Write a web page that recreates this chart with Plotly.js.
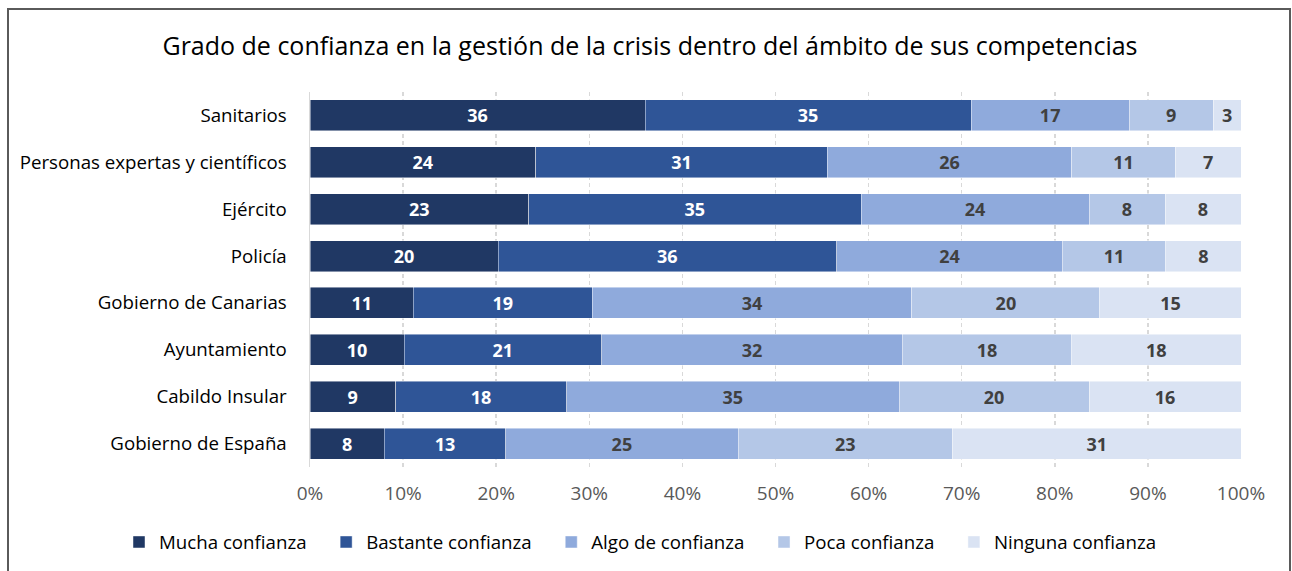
<!DOCTYPE html>
<html>
<head>
<meta charset="utf-8">
<script src="https://cdn.plot.ly/plotly-3.0.1.min.js"></script>
<style>
  html, body { margin: 0; padding: 0; background: #fff; overflow: hidden; }
  #wrap { position: relative; width: 1292px; height: 571px; }
  #chart { position: absolute; left: 0; top: 0; width: 1292px; height: 571px; }
  #frame { position: absolute; left: 7px; top: 8px; width: 1280px; height: 600px;
           border: 2px solid #5a5a5a; pointer-events: none; }
</style>
</head>
<body>
<div id="wrap">
  <div id="chart"></div>
  <div id="frame"></div>
</div>
<script>
const categories = ["Sanitarios", "Personas expertas y científicos", "Ejército", "Policía",
  "Gobierno de Canarias", "Ayuntamiento", "Cabildo Insular", "Gobierno de España"];
const seriesNames = ["Mucha confianza", "Bastante confianza", "Algo de confianza", "Poca confianza", "Ninguna confianza"];
const mucha    = [36, 24, 23, 20, 11, 10, 9, 8];
const bastante = [35, 31, 35, 36, 19, 21, 18, 13];
const algo     = [17, 26, 24, 24, 34, 32, 35, 25];
const poca     = [9, 11, 8, 11, 20, 18, 20, 23];
const ninguna  = [3, 7, 8, 8, 15, 18, 16, 31];
const xTickVals = [0, 10, 20, 30, 40, 50, 60, 70, 80, 90, 100];

const seriesValues = [mucha, bastante, algo, poca, ninguna];
const colors = ["#203864", "#2f5597", "#8faadc", "#b4c7e7", "#dae3f3"];
const textColors = ["#ffffff", "#ffffff", "#404040", "#404040", "#404040"];
const FONT = "'Open Sans', sans-serif";
const PAD = "\u00a0\u00a0\u00a0";

const traces = seriesValues.map((vals, i) => ({
  type: "bar",
  orientation: "h",
  name: seriesNames[i] + (i < seriesValues.length - 1 ? PAD : ""),
  y: categories,
  x: vals,
  text: vals.map(String),
  texttemplate: "%{text}",
  textposition: "inside",
  insidetextanchor: "middle",
  constraintext: "none",
  textfont: { family: FONT, size: 18, color: textColors[i], weight: "bold" },
  marker: { color: colors[i], line: { color: "rgba(255,255,255,0.6)", width: 0.75 } },
  hoverinfo: "skip"
}));

const PLOT_TOP = 91.5, PLOT_BOTTOM = 467.5, PLOT_LEFT = 310, PLOT_RIGHT = 1241;

const layout = {
  width: 1292,
  height: 571,
  barmode: "stack",
  barnorm: "percent",
  bargap: 0.34,
  paper_bgcolor: "#ffffff",
  plot_bgcolor: "#ffffff",
  margin: { l: PLOT_LEFT, r: 1292 - PLOT_RIGHT, t: PLOT_TOP, b: 571 - PLOT_BOTTOM, autoexpand: false },
  font: { family: FONT, color: "#000000" },
  title: {
    text: "Grado de confianza en la gestión de la crisis dentro del ámbito de sus competencias",
    font: { family: FONT, size: 25, color: "#000000" },
    x: 650 / 1292, xanchor: "center", xref: "container",
    y: 1 - 46 / 571, yanchor: "middle", yref: "container"
  },
  xaxis: {
    range: [0, 100],
    tickvals: xTickVals,
    ticktext: xTickVals.map(v => v + "%"),
    showgrid: true,
    gridcolor: "#d9d9d9",
    gridwidth: 1.5,
    griddash: "4px,3px",
    zeroline: false,
    showline: false,
    ticks: "",
    ticklabelstandoff: 13,
    tickfont: { family: FONT, size: 19, color: "#595959" },
    fixedrange: true
  },
  yaxis: {
    autorange: "reversed",
    showgrid: false,
    zeroline: false,
    showline: true,
    linecolor: "#d9d9d9",
    linewidth: 1.5,
    ticks: "",
    ticklabelstandoff: 18,
    tickfont: { family: FONT, size: 18.7, color: "#000000" },
    fixedrange: true
  },
  showlegend: true,
  legend: {
    orientation: "h",
    xref: "paper", yref: "paper",
    x: (119 - PLOT_LEFT) / (PLOT_RIGHT - PLOT_LEFT), xanchor: "left",
    y: (PLOT_BOTTOM - 543) / (PLOT_BOTTOM - PLOT_TOP), yanchor: "middle",
    font: { family: FONT, size: 18.7, color: "#000000" },
    itemwidth: 30,
    traceorder: "normal"
  }
};

Plotly.newPlot("chart", traces, layout, { displayModeBar: false, staticPlot: true });
</script>
</body>
</html>
